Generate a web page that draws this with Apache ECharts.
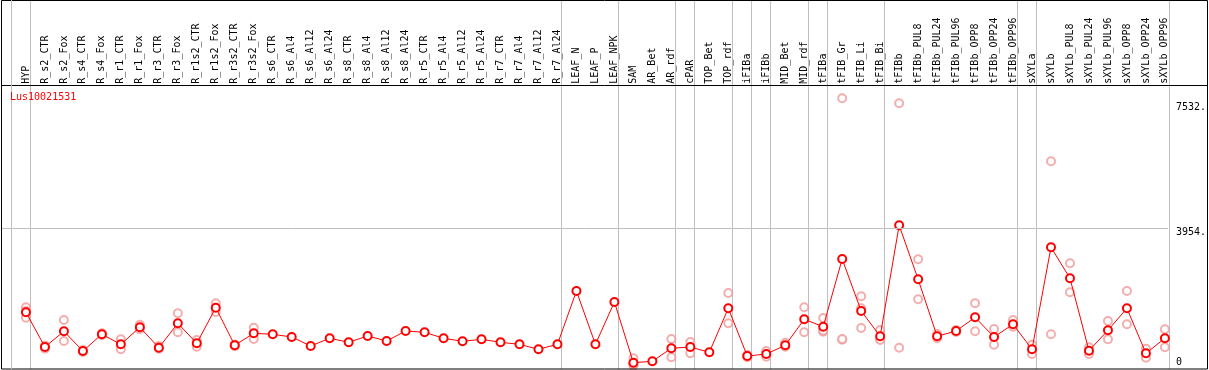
<!DOCTYPE html>
<html>
<head>
<meta charset="utf-8">
<script src="https://cdn.jsdelivr.net/npm/echarts@6/dist/echarts.min.js"></script>
<style>html,body{margin:0;padding:0;background:#fff;}#c{width:1209px;height:370px;}</style>
</head>
<body>
<div id="c"></div>
<script>
const geneName = 'Lus10021531';
const categories = ['HYP','R_s2_CTR','R_s2_Fox','R_s4_CTR','R_s4_Fox','R_r1_CTR','R_r1_Fox','R_r3_CTR','R_r3_Fox','R_r1s2_CTR','R_r1s2_Fox','R_r3s2_CTR','R_r3s2_Fox','R_s6_CTR','R_s6_Al4','R_s6_Al12','R_s6_Al24','R_s8_CTR','R_s8_Al4','R_s8_Al12','R_s8_Al24','R_r5_CTR','R_r5_Al4','R_r5_Al12','R_r5_Al24','R_r7_CTR','R_r7_Al4','R_r7_Al12','R_r7_Al24','LEAF_N','LEAF_P','LEAF_NPK','SAM','AR_Bet','AR_rdf','cPAR','TOP_Bet','TOP_rdf','iFIBa','iFIBb','MID_Bet','MID_rdf','tFIBa','tFIB_Gr','tFIB_Li','tFIB_Bi','tFIBb','tFIBb_PUL8','tFIBb_PUL24','tFIBb_PUL96','tFIBb_OPP8','tFIBb_OPP24','tFIBb_OPP96','sXYLa','sXYLb','sXYLb_PUL8','sXYLb_PUL24','sXYLb_PUL96','sXYLb_OPP8','sXYLb_OPP24','sXYLb_OPP96'];
const means = [1556,565,1014,451,928,642,1128,545,1242,671,1688,614,957,928,851,594,814,700,880,737,1022,985,814,728,785,700,642,500,642,2164,642,1850,117,157,528,565,414,1670,308,365,614,1356,1145,3078,1593,871,4041,2499,871,1022,1413,851,1214,500,3412,2527,460,1042,1670,385,814];
const rep1 = [1699,610,1336,480,957,785,1202,594,1528,765,1813,640,1117,null,null,null,null,null,null,null,null,null,null,null,null,null,null,null,null,null,null,null,243,null,794,708,null,2107,337,451,688,1699,1393,7667,2013,1051,7524,3070,937,1051,1813,1079,1336,631,5868,2955,557,1308,2164,517,1071];
const rep2 = [1402,520,737,422,900,500,1071,517,985,574,1565,590,794,null,null,null,null,null,null,null,null,null,null,null,null,null,null,null,null,null,null,null,31,null,271,385,null,1242,271,289,574,985,1002,774,1670,794,545,1927,814,994,1014,631,1145,365,928,2127,365,785,1214,260,557];
const rep3 = [1593,null,null,null,null,null,null,null,null,null,null,null,null,null,null,null,null,null,null,null,null,null,null,null,null,null,null,null,null,null,null,null,78,null,null,null,null,null,null,null,null,null,1040,793,1108,768,null,null,null,null,null,null,null,null,null,null,null,null,null,null,null];
const yTickValues = [0, 3954, 7532];
const groupEnds = [-1,0,28,31,34,35,37,38,39,41,42,45,52,53,60];

const font = 'DejaVu Sans Mono';
const repData = [];
[rep1, rep2, rep3].forEach(r => r.forEach((v, i) => { if (v != null) repData.push([i, v]); }));
const meanData = means.map((v, i) => [i, v]);
const idx = categories.map((c, i) => i);

const chart = echarts.init(document.getElementById('c'), null, {renderer: 'canvas'});
chart.setOption({
  animation: false,
  backgroundColor: '#fff',
  title: {text: geneName, left: 10, top: 92, padding: 0, z: 300, zlevel: 0, textStyle: {color: '#ff0000', fontFamily: font, fontSize: 10, fontWeight: 'normal'}},
  grid: {left: 1, right: 39, top: 0, bottom: 3.2, containLabel: false},
  xAxis: {
    type: 'value', position: 'top', offset: -85.7, min: -1.3146, max: 60.158,
    axisLine: {show: false}, axisTick: {show: false}, splitLine: {show: false},
    axisLabel: {customValues: idx, rotate: 90, margin: 2, color: '#000', fontFamily: font, fontSize: 10,
      formatter: v => categories[Math.round(v)] || ''}
  },
  yAxis: {
    type: 'value', position: 'right', min: 0, max: 10474,
    axisLine: {show: false}, axisTick: {show: false}, splitLine: {show: false},
    axisLabel: {customValues: yTickValues, margin: 8, align: 'left', color: '#000', fontFamily: font, fontSize: 10,
      formatter: v => v === 0 ? '{u|0}' : '{d|' + v + '.}',
      rich: {u: {padding: [0,0,9,0], fontFamily: font, fontSize: 10}, d: {padding: [9,0,0,0], fontFamily: font, fontSize: 10}}}
  },
  series: [
    {type: 'scatter', data: repData, symbol: 'emptyCircle', symbolSize: 8,
      itemStyle: {color: '#f09a9a', borderColor: '#f09a9a', borderWidth: 1.3}, z: 3, silent: true},
    {type: 'line', data: meanData, symbol: 'emptyCircle', symbolSize: 8, showAllSymbol: true,
      lineStyle: {color: '#ff0000', width: 1}, itemStyle: {color: '#ff0000', borderColor: '#ff0000', borderWidth: 1.6}, z: 4,
      markLine: {silent: true, symbol: 'none', label: {show: false}, animation: false,
        lineStyle: {color: '#c0c0c0', width: 1, type: 'solid'},
        data: [{yAxis: 3954}]}}
  ]
});

// group separators, positioned through the x axis scale
const seps = groupEnds.map((g, k) => {
  const x = Math.round(chart.convertToPixel({xAxisIndex: 0}, g + 0.2)) + 0.5;
  return {type: 'line', silent: true, z: k === 0 ? 150 : 1, shape: {x1: x, y1: 0, x2: x, y2: 369}, style: {stroke: '#c0c0c0', lineWidth: 1}};
});
chart.setOption({
  graphic: seps.concat([
    {type: 'rect', silent: true, shape: {x: 1.5, y: 0.5, width: 1206, height: 368.5}, style: {fill: 'none', stroke: '#000', lineWidth: 1}, z: 100},
    {type: 'line', silent: true, shape: {x1: 1, y1: 85.5, x2: 1208, y2: 85.5}, style: {stroke: '#000', lineWidth: 1}, z: 100}
  ])
});
</script>
</body>
</html>
